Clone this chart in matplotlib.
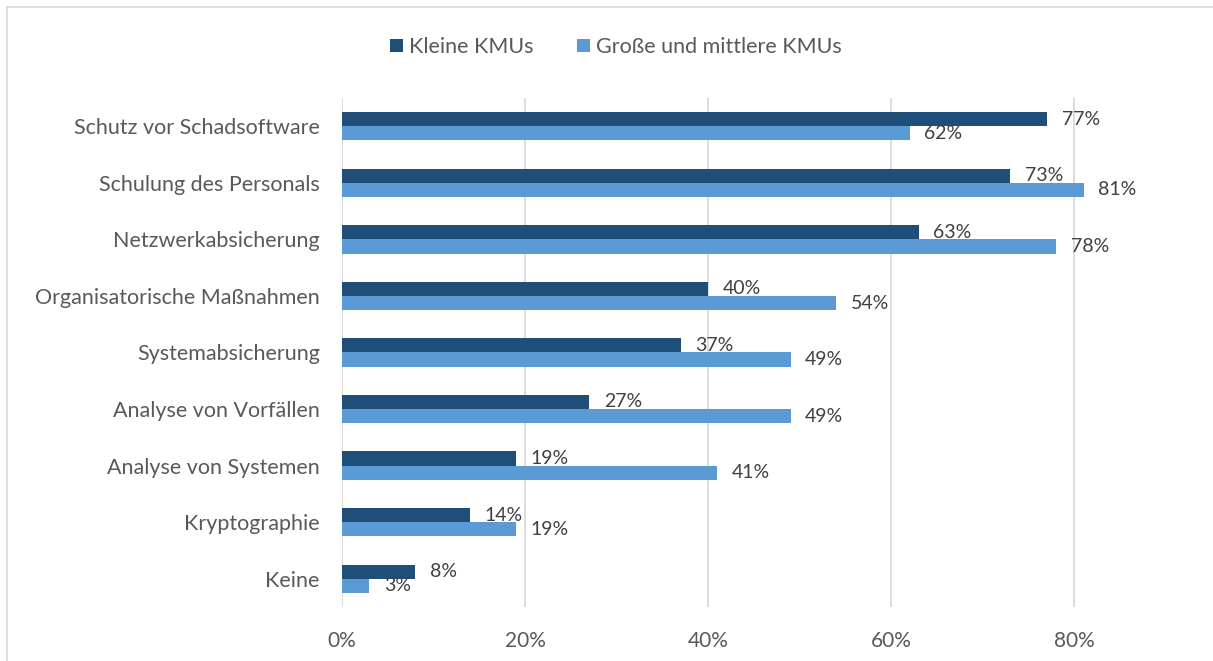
import numpy as np
import matplotlib.pyplot as plt
from matplotlib.lines import Line2D

plt.rcParams['font.family'] = ['Lato', 'DejaVu Sans']

categories = ['Schutz vor Schadsoftware', 'Schulung des Personals', 'Netzwerkabsicherung',
              'Organisatorische Maßnahmen', 'Systemabsicherung', 'Analyse von Vorfällen',
              'Analyse von Systemen', 'Kryptographie', 'Keine']
kleine = [77, 73, 63, 40, 37, 27, 19, 14, 8]
grosse = [62, 81, 78, 54, 49, 49, 41, 19, 3]
series_names = ['Kleine KMUs', 'Große und mittlere KMUs']
colors = ['#1F4E79', '#5B9BD5']
txt = '#595959'

fig = plt.figure(figsize=(12.13, 6.61), dpi=100)
W, H = 1213, 661
ax = fig.add_axes([342 / W, 1 - 607 / H, (1166 - 342) / W, (607 - 98) / H])

# chart border: only top and left edges are inside the picture
fig.add_artist(Line2D([7 / W, 1], [1 - 7 / H, 1 - 7 / H], transform=fig.transFigure,
                      color='#D9D9D9', linewidth=1.2))
fig.add_artist(Line2D([7 / W, 7 / W], [0, 1 - 7 / H], transform=fig.transFigure,
                      color='#D9D9D9', linewidth=1.2))

y = np.arange(len(categories))
h = 0.25
b1 = ax.barh(y - h / 2, kleine, height=h, color=colors[0], label=series_names[0])
b2 = ax.barh(y + h / 2, grosse, height=h, color=colors[1], label=series_names[1])

for bars, vals in ((b1, kleine), (b2, grosse)):
    for bar, v in zip(bars, vals):
        ax.text(v + 1.6, bar.get_y() + bar.get_height() / 2, f'{v}%', va='center', ha='left',
                fontsize=14, color='#404040')

ax.set_ylim(len(categories) - 0.5, -0.5)
ax.set_xlim(0, 90)
ax.set_xticks([0, 20, 40, 60, 80])
ax.set_xticklabels([f'{t}%' for t in [0, 20, 40, 60, 80]])
ax.set_yticks(y)
ax.set_yticklabels(categories)
ax.tick_params(axis='both', length=0, labelsize=15.5, colors=txt)
ax.tick_params(axis='x', labelsize=15, pad=17)
ax.tick_params(axis='y', pad=16)
ax.xaxis.grid(True, color='#D9D9D9', linewidth=1.3)
ax.set_axisbelow(True)
for s in ax.spines.values():
    s.set_visible(False)

fig.legend(handles=[b1, b2], loc='center', bbox_to_anchor=(616 / W, 1 - 47 / H), ncol=2,
           frameon=False, fontsize=15.5, labelcolor=txt, handlelength=0.6, handleheight=0.6,
           handletextpad=0.3, columnspacing=2.0)

fig.savefig('out.png', dpi=100)
